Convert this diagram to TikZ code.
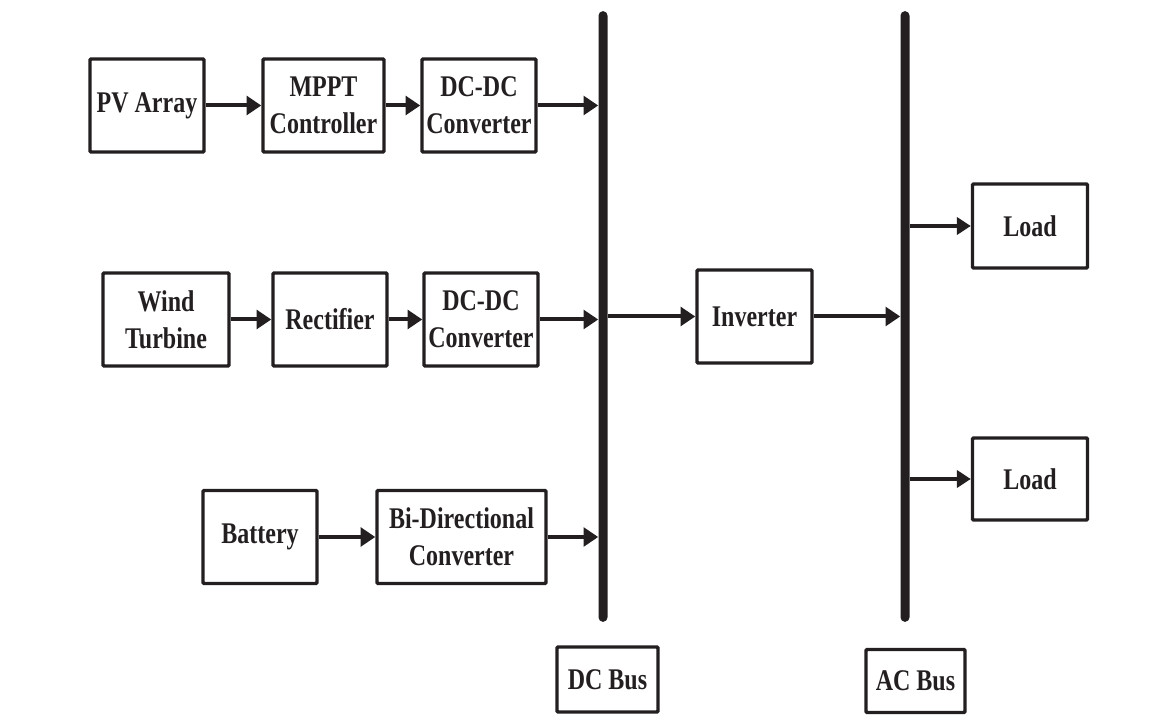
\documentclass[tikz,border=0pt]{standalone}
\usepackage{fontspec}
\setmainfont{Liberation Serif}[FakeStretch=0.8]
\usetikzlibrary{arrows.meta}
\definecolor{ink}{HTML}{231F20}
\tikzset{
  blk/.style={draw=ink, line width=2.6pt, rounded corners=0.8pt, align=center,
    inner sep=0pt, font=\fontsize{22.5}{27.5}\selectfont\bfseries, text=ink,
    minimum height=69.75pt},
  bus/.style={fill=ink, rounded corners=3.3pt, minimum width=6.75pt, minimum height=458pt, inner sep=0pt},
  arr/.style={draw=ink, line width=3pt, -{Triangle[length=11pt,width=14pt]}},
  thinarr/.style={draw=ink, line width=2.4pt, -{Triangle[length=10.5pt,width=13pt]}},
}
\begin{document}
\begin{tikzpicture}[x=0.75pt,y=-0.75pt]
\useasboundingbox (0,0) rectangle (1165,716);
% buses
\node[bus] (dcbus) at (603,316.5) {};
\node[bus] (acbus) at (905,316.5) {};
% row 1
\node[blk, minimum width=85.5pt] (pv) at (147,105.5) {PV Array};
\node[blk, minimum width=90.75pt] (mppt) at (323.5,105.5) {MPPT\\Controller};
\node[blk, minimum width=85.5pt] (dc1) at (479,105.5) {DC-DC\\Converter};
% row 2
\node[blk, minimum width=94.5pt] (wind) at (166,319.5) {Wind\\Turbine};
\node[blk, minimum width=85.5pt] (rect) at (330,319.5) {Rectifier};
\node[blk, minimum width=85.5pt] (dc2) at (481,319.5) {DC-DC\\Converter};
% row 3
\node[blk, minimum width=85.5pt] (bat) at (260,537) {Battery};
\node[blk, minimum width=126.75pt] (bidir) at (461.5,537) {Bi-Directional\\Converter};
% inverter and loads
\node[blk, minimum width=86.25pt] (inv) at (754.5,316.5) {Inverter};
\node[blk, minimum width=86.25pt, minimum height=63pt] (load1) at (1030,226) {Load};
\node[blk, minimum width=86.25pt, minimum height=61.5pt] (load2) at (1030,479) {Load};
% bus labels
\node[blk, minimum width=75.75pt, minimum height=48.75pt] (dclab) at (607.5,679.5) {DC Bus};
\node[blk, minimum width=74.25pt, minimum height=47.25pt] (aclab) at (915.5,681) {AC Bus};
% connectors
\draw[arr] (pv.east) -- (mppt.west);
\draw[arr] (mppt.east) -- (dc1.west);
\draw[arr] (dc1.east) -- (dc1.east -| dcbus.west);
\draw[arr] (wind.east) -- (rect.west);
\draw[arr] (rect.east) -- (dc2.west);
\draw[arr] (dc2.east) -- (dc2.east -| dcbus.west);
\draw[arr] (bat.east) -- (bidir.west);
\draw[arr] (bidir.east) -- (bidir.east -| dcbus.west);
\draw[arr] (dcbus.east |- inv.west) -- (inv.west);
\draw[arr] (inv.east) -- (inv.east -| acbus.west);
\draw[thinarr] (acbus.east |- load1.west) -- (load1.west);
\draw[thinarr] (acbus.east |- load2.west) -- (load2.west);
\end{tikzpicture}
\end{document}
